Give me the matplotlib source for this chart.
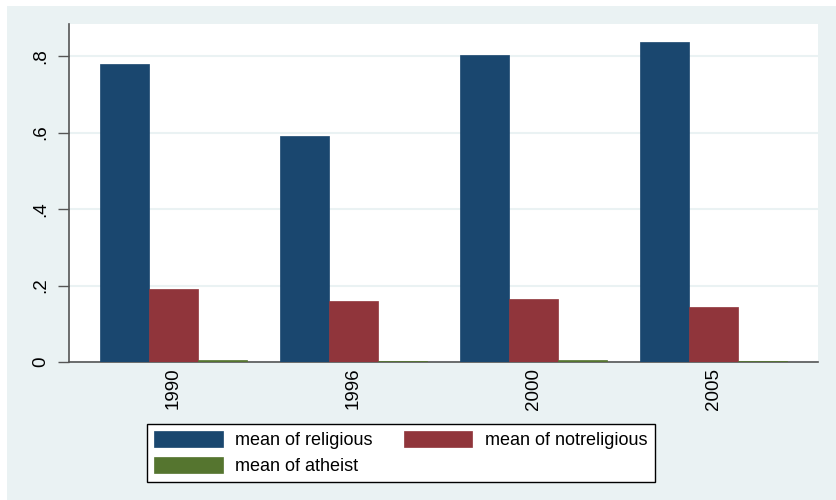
import numpy as np
import matplotlib.pyplot as plt
from matplotlib.patches import Rectangle

plt.rcParams['font.family'] = ['Liberation Sans', 'DejaVu Sans']

years = ['1990', '1996', '2000', '2005']
religious = [0.779, 0.591, 0.803, 0.838]
notreligious = [0.191, 0.159, 0.165, 0.145]
atheist = [0.005, 0.002, 0.005, 0.002]

navy = '#1a476f'
maroon = '#90353b'
green = '#55752f'
bg = '#eaf2f3'

fig = plt.figure(figsize=(8.36, 5.0), dpi=100, facecolor='white')
# shaded graph region (leaves a thin white strip top and left)
fig.patches.append(Rectangle((7/836, 0), 1 - 7/836, 494/500, transform=fig.transFigure,
                             facecolor=bg, edgecolor='none', zorder=-10))

ax = fig.add_axes([69/836, 138/500, 749/836, 338/500])
ax.set_facecolor('white')

x = np.arange(len(years))
w = 0.272
b1 = ax.bar(x - w, religious, w, color=navy, edgecolor=navy, linewidth=0.5, zorder=3)
b2 = ax.bar(x, notreligious, w, color=maroon, edgecolor=maroon, linewidth=0.5, zorder=3)
b3 = ax.bar(x + w, atheist, w, color=green, edgecolor=green, linewidth=0.5, zorder=3)

ax.set_xlim(-0.58, 3.58)
ax.set_ylim(0, 0.884)
ax.set_yticks([0, 0.2, 0.4, 0.6, 0.8])
ax.set_yticklabels(['0', '.2', '.4', '.6', '.8'], rotation=90, va='center', fontsize=13.5)
ax.set_xticks(x)
ax.set_xticklabels(years, rotation=90, fontsize=13.5)
ax.tick_params(axis='x', length=0, pad=4)
ax.tick_params(axis='y', length=8, width=1, color='#555555', pad=6)
ax.yaxis.grid(True, color=bg, linewidth=1.5, zorder=1)
ax.set_axisbelow(True)

for s in ['top', 'right']:
    ax.spines[s].set_visible(False)
for s in ['left', 'bottom']:
    ax.spines[s].set_color('#555555')
    ax.spines[s].set_linewidth(1.2)

# two-column legend: religious / notreligious on the first row
leg = fig.legend([b1, b3, b2], ['mean of religious', 'mean of atheist', 'mean of notreligious'],
                 ncol=2, loc='upper left', bbox_to_anchor=(147/836, 1 - 424/500),
                 fontsize=13, frameon=True, fancybox=False, edgecolor='black', framealpha=1,
                 handlelength=3.8, handleheight=1.0, handletextpad=0.7,
                 columnspacing=1.7, borderpad=0.4, labelspacing=0.4, borderaxespad=0)
leg.get_frame().set_linewidth(1.0)

fig.savefig('out.png', dpi=100, facecolor=fig.get_facecolor())
